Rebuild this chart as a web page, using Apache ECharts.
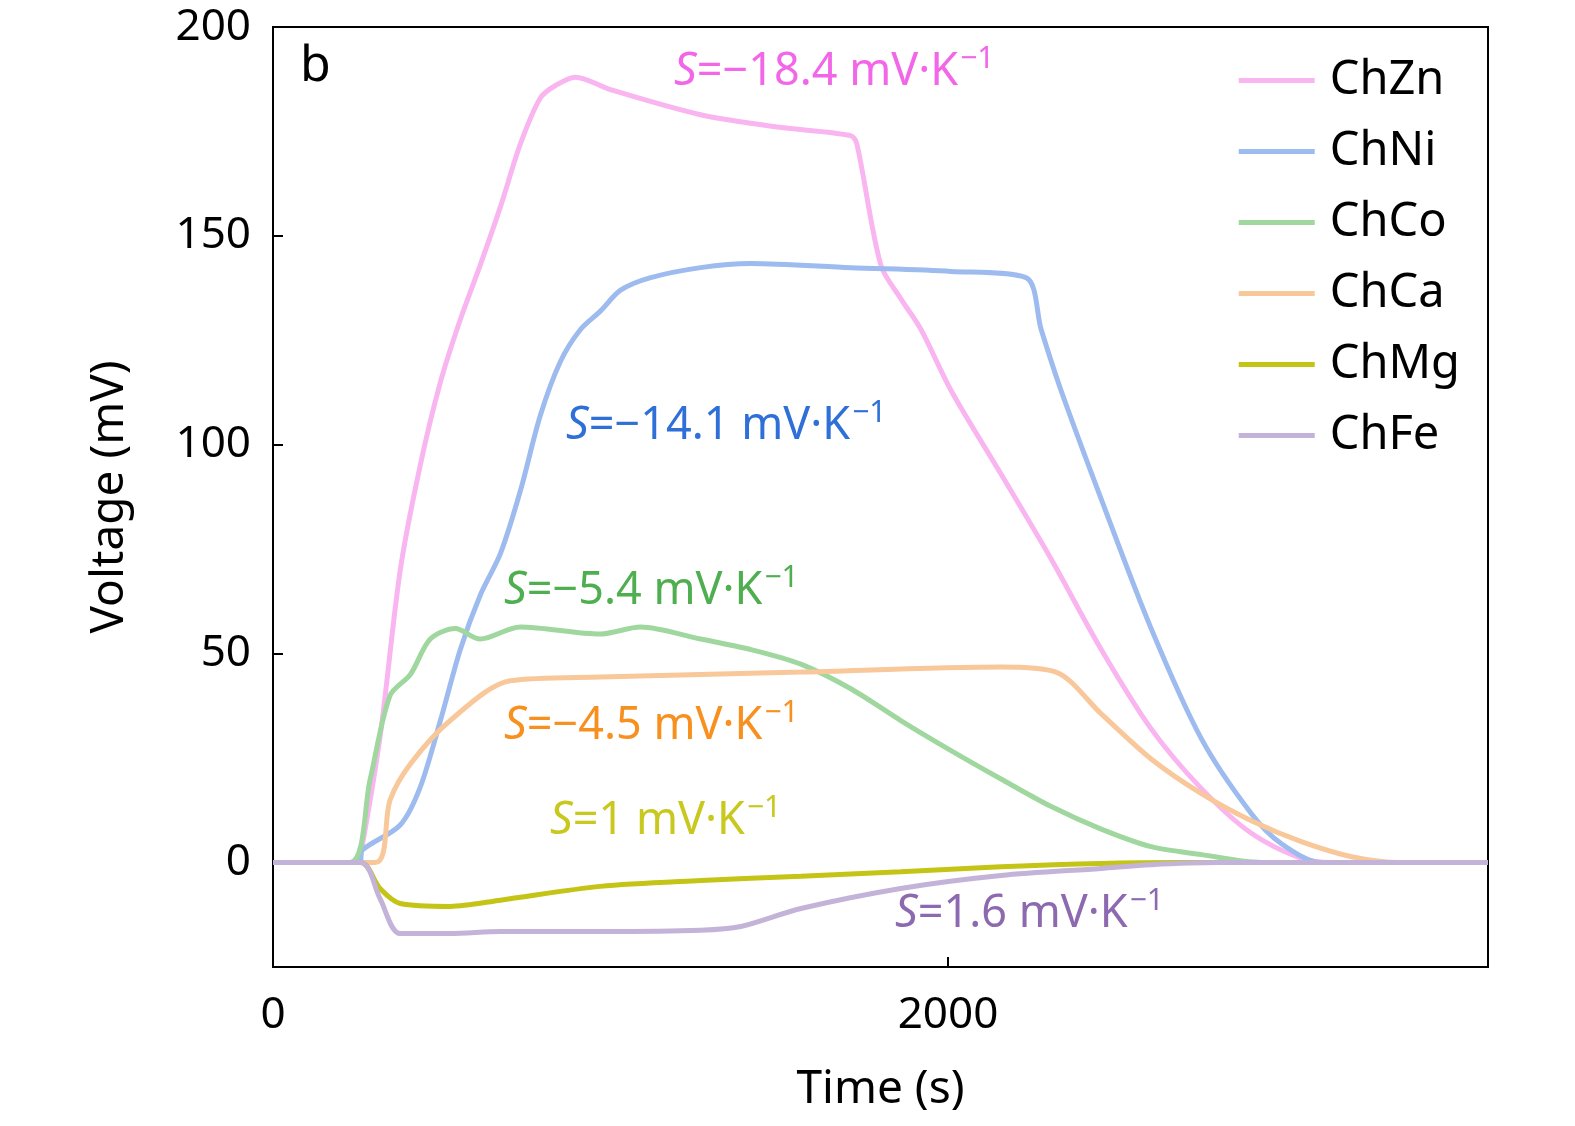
<!DOCTYPE html>
<html>
<head>
<meta charset="utf-8">
<script src="https://cdn.jsdelivr.net/npm/echarts@6/dist/echarts.min.js"></script>
<style>html,body{margin:0;padding:0;background:#fff}#chart{width:1575px;height:1126px}</style>
</head>
<body>
<div id="chart"></div>
<script>
// time (s) and voltage (mV)
var znT = [0, 250, 260, 317, 377, 436, 496, 555, 614, 674, 733, 792, 837, 896, 1000, 1267, 1500, 1712, 1730, 1801, 1860, 1920, 2009, 2157, 2306, 2454, 2602, 2751, 2899, 3047, 3137, 3600];
var znV = [0, 0, 2, 30, 70, 95, 115, 130, 143, 157, 172, 183, 186, 188, 185, 179, 176, 174, 172, 143, 135, 127.6, 113, 93, 72.6, 51, 32, 17.7, 7, 1, 0, 0];
var niT = [0, 255, 265, 377, 436, 496, 555, 614, 674, 733, 792, 852, 911, 970, 1030, 1119, 1267, 1415, 1712, 2009, 2231, 2276, 2335, 2454, 2602, 2751, 2899, 2988, 3107, 3600];
var niV = [0, 0, 3, 9, 18, 34, 51, 64, 74, 89, 107, 120, 127.6, 132, 137, 140, 142.4, 143.4, 142.4, 141.5, 140, 127.6, 113, 87, 56, 29.6, 11.7, 4.5, 0, 0];
var coT = [0, 228, 288, 347, 407, 466, 540, 614, 733, 970, 1089, 1267, 1415, 1564, 1712, 1860, 2009, 2157, 2306, 2454, 2602, 2751, 2929, 3600];
var coV = [0, 0, 20, 40, 45, 53.5, 56, 53.5, 56.4, 54.7, 56.4, 53.5, 51, 47.5, 41.6, 34, 26.8, 20, 13.4, 8, 3.8, 1.9, 0, 0];
var caT = [0, 303, 347, 407, 525, 703, 970, 1564, 2157, 2320, 2454, 2602, 2751, 2899, 3047, 3196, 3340, 3600];
var caV = [0, 0, 15, 23.6, 34, 43.5, 44.4, 45.6, 46.8, 45.6, 35.6, 24.8, 16.5, 10, 5, 1.4, 0, 0];
var mgT = [0, 260, 317, 377, 525, 674, 970, 1267, 1564, 1860, 2157, 2454, 2700, 3600];
var mgV = [0, 0, -6.2, -9.8, -10.5, -9, -5.7, -4.3, -3.3, -2.2, -1, -0.2, 0, 0];
var feT = [0, 260, 317, 377, 525, 674, 970, 1267, 1386, 1564, 1860, 2157, 2454, 2602, 2800, 3600];
var feV = [0, 0, -8.6, -17, -17, -16.5, -16.5, -16.2, -15.3, -11, -6.2, -3.1, -1.4, -0.5, 0, 0];

var names = ['ChZn', 'ChNi', 'ChCo', 'ChCa', 'ChMg', 'ChFe'];
var colors = ['#f9b5f0', '#9dbbee', '#9fd79f', '#f8c79a', '#c4c416', '#c3b3d8'];
var sets = [[znT, znV], [niT, niV], [coT, coV], [caT, caV], [mgT, mgV], [feT, feV]];

function pairs(t, v) { return t.map(function (x, i) { return [x, v[i]]; }); }

var font = 'Noto Sans';
var chart = echarts.init(document.getElementById('chart'));

function ann(txt, color, x, y) {
  return {
    type: 'text', left: x, top: y,
    style: {
      text: '{i|S}{n|' + txt + '}{s|−1}',
      rich: {
        i: { fontStyle: 'italic', fontSize: 45, fill: color, fontFamily: font },
        n: { fontSize: 45, fill: color, fontFamily: font },
        s: { fontSize: 30, fill: color, fontFamily: font, verticalAlign: 'top', padding: [0, 0, 26, 2] }
      }
    }
  };
}

chart.setOption({
  animation: false,
  grid: { left: 273, top: 27, right: 87, bottom: 159, outerBoundsMode: 'none', containLabel: false },
  xAxis: {
    type: 'value', min: 0, max: 3600, interval: 2000,
    name: 'Time (s)', nameLocation: 'middle', nameGap: 100,
    nameTextStyle: { fontSize: 46, color: '#000', fontFamily: font },
    axisLine: { onZero: false, lineStyle: { color: '#000', width: 2 } },
    axisTick: { inside: true, length: 10, lineStyle: { color: '#000', width: 2 } },
    axisLabel: { fontSize: 44, color: '#000', fontFamily: font, margin: 26,
      formatter: function (v) { return v % 2000 === 0 ? v : ''; } },
    splitLine: { show: false }
  },
  yAxis: {
    type: 'value', min: -25, max: 200,
    name: 'Voltage (mV)', nameLocation: 'middle', nameGap: 140,
    nameTextStyle: { fontSize: 46, color: '#000', fontFamily: font },
    axisLine: { onZero: false, lineStyle: { color: '#000', width: 2 } },
    axisTick: { inside: true, length: 10, lineStyle: { color: '#000', width: 2 } },
    axisLabel: { fontSize: 44, color: '#000', fontFamily: font, margin: 22,
      formatter: function (v) { return v % 50 === 0 ? v : ''; } },
    splitLine: { show: false }
  },
  legend: {
    orient: 'vertical', right: 110, top: 52,
    itemWidth: 76, itemHeight: 5, icon: 'rect', itemGap: 24,
    textStyle: { fontSize: 47, color: '#000', fontFamily: font, padding: [0, 0, 0, 10] },
    data: names
  },
  color: colors,
  series: names.map(function (n, i) {
    return {
      name: n, type: 'line', smooth: 0.3, showSymbol: false,
      lineStyle: { width: 5, color: colors[i] },
      itemStyle: { color: colors[i] },
      data: pairs(sets[i][0], sets[i][1])
    };
  }),
  graphic: [
    { type: 'rect', shape: { x: 273, y: 27, width: 1215, height: 940 }, style: { fill: 'none', stroke: '#000', lineWidth: 2 }, silent: true },
    { type: 'text', left: 300, top: 42, style: { text: 'b', fontSize: 50, fill: '#000', fontFamily: font } },
    ann('=−18.4 mV·K', '#f266e8', 674, 44),
    ann('=−14.1 mV·K', '#2f6fd8', 566, 398),
    ann('=−5.4 mV·K', '#4fae4f', 504, 563),
    ann('=−4.5 mV·K', '#f7901e', 504, 698),
    ann('=1 mV·K', '#c8c81e', 550, 793),
    ann('=1.6 mV·K', '#8d6aaf', 895, 886)
  ]
});
</script>
</body>
</html>
